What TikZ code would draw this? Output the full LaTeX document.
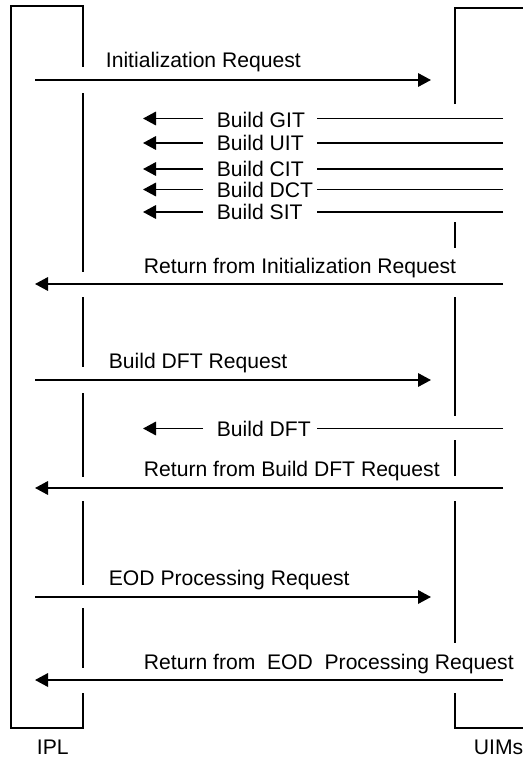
\documentclass[tikz,border=0pt]{standalone}
\usepackage{fontspec}
\setmainfont{Liberation Sans}
\usetikzlibrary{arrows.meta}
\begin{document}
\begin{tikzpicture}[x=1bp,y=-1bp, line width=1.8bp,
  msg/.style={-{Triangle[length=13bp,width=13.5bp]}},
  lbl/.style={anchor=base west, inner sep=0pt, font=\fontsize{21.2}{25}\selectfont},
  life/.style={line cap=butt}]
\useasboundingbox (0,0) rectangle (523,759);
% IPL box and lifeline
\draw[life] (83,67) -- (83,6) -- (11,6) -- (11,728) -- (83,728) -- (83,693);
\foreach \a/\b in {93/272, 297/367, 393/477, 501/585, 608/668}
  \draw[life] (83,\a) -- (83,\b);
% UIMs box and lifeline
\draw[life] (455,104) -- (455,8) -- (523,8);
\draw[life] (523,728) -- (455,728) -- (455,693);
\foreach \a/\b in {222/248, 297/416, 440/476, 501/643}
  \draw[life] (455,\a) -- (455,\b);
% labels
\node[lbl] (ipl) at (36,754) {IPL};
\node[lbl] (uims) at (473,754) {UIMs};
\node[lbl] (initreq) at (105,68) {Initialization Request};
\node[lbl] (git) at (216,127) {Build GIT};
\node[lbl] (uit) at (216,150.5) {Build UIT};
\node[lbl] (cit) at (216,176.5) {Build CIT};
\node[lbl] (dct) at (216,197) {Build DCT};
\node[lbl] (sit) at (216,219.5) {Build SIT};
\node[lbl] (retinit) at (143,273) {Return from Initialization Request};
\node[lbl] (dftreq) at (108,368) {Build DFT Request};
\node[lbl] (dft) at (216,436) {Build DFT};
\node[lbl] (retdft) at (143,476) {Return from Build DFT Request};
\node[lbl] (eodreq) at (108,585) {EOD Processing Request};
\node[lbl] (reteod) at (143,669) {Return from\ \ EOD\ \ Processing Request};
% coordinates for message ends
\foreach \n/\y in {a/80, b/380, c/597} {
  \coordinate (s\n) at (35,\y);
  \coordinate (t\n) at (431,\y);
}
\foreach \n/\y in {a/284, b/488, c/680} {
  \coordinate (rs\n) at (503,\y);
  \coordinate (rt\n) at (35,\y);
}
\foreach \n/\y in {git/118.5, uit/143, cit/169, dct/189.5, sit/212, dft/428.5} {
  \coordinate (\n L) at (143,\y);
  \coordinate (\n M) at (203,\y);
  \coordinate (\n N) at (317,\y);
  \coordinate (\n R) at (503,\y);
}
% request messages
\draw[msg] (sa) -- (ta);
\draw[msg] (sb) -- (tb);
\draw[msg] (sc) -- (tc);
% return messages
\draw[msg] (rsa) -- (rta);
\draw[msg] (rsb) -- (rtb);
\draw[msg] (rsc) -- (rtc);
% build messages
\foreach \n in {git, uit, cit, dct, sit, dft} {
  \draw[msg] (\n M) -- (\n L);
  \draw[life] (\n R) -- (\n N);
}
\end{tikzpicture}
\end{document}
